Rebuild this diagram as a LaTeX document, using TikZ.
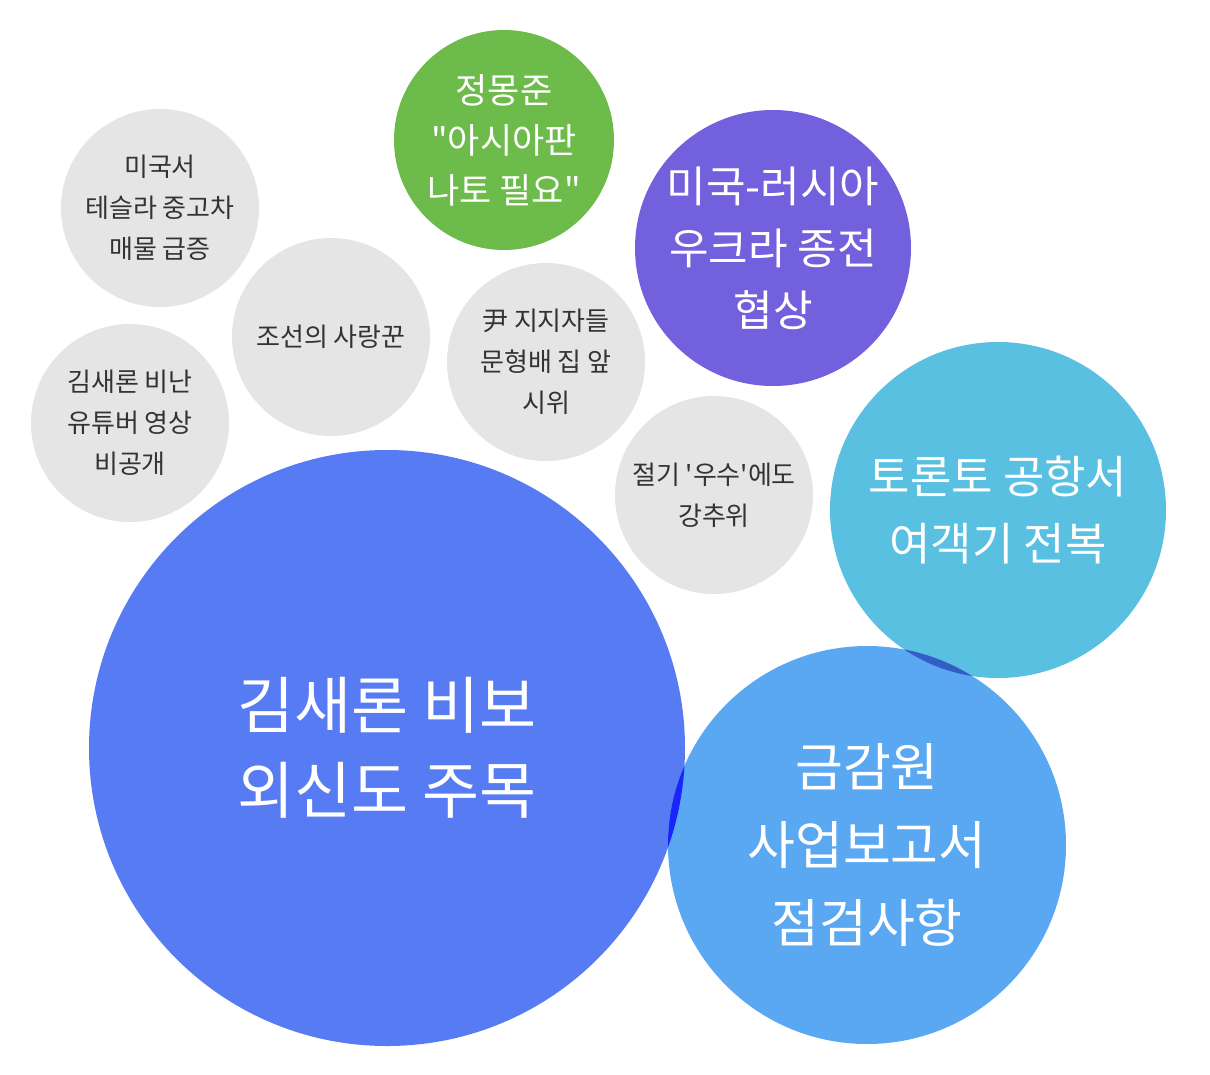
\documentclass[tikz,border=0pt]{standalone}
\usepackage{fontspec}
\newfontfamily\kr{Noto Sans CJK KR}
\definecolor{cbig}{HTML}{577BF3}
\definecolor{cfss}{HTML}{5BA8F2}
\definecolor{ctor}{HTML}{59C0E2}
\definecolor{cusr}{HTML}{7360DD}
\definecolor{cgrn}{HTML}{6DBB4A}
\definecolor{cgry}{HTML}{E5E5E5}
\definecolor{ctxt}{HTML}{333333}
\tikzset{
  bub/.style={circle,inner sep=0pt,minimum size=#1},
  wt/.style 2 args={text=white,align=center,font=\kr\fontsize{#1}{#2}\selectfont},
  gt/.style={text=ctxt,align=center,font=\kr\fontsize{26}{41}\selectfont},
}
\begin{document}
\begin{tikzpicture}[x=1pt,y=-1pt]
\useasboundingbox (0,0) rectangle (1210,1074);
\fill[cgry] (160,208) circle (99);
\fill[cgry] (331,337) circle (99);
\fill[cgry] (130,423) circle (99);
\fill[cgry] (546,362) circle (99);
\fill[cgry] (714,495) circle (99);
\fill[cgrn] (504,140) circle (110);
\fill[cusr] (773,248) circle (138);
\fill[ctor] (998,510) circle (168);
\fill[cbig] (387,748) circle (298);
\fill[cfss] (867,845) circle (199);
\begin{scope}
\clip (387,748) circle (298);
\fill[blue!70!cbig] (867,845) circle (199);
\end{scope}
\begin{scope}
\clip (998,510) circle (168);
\fill[cfss!70!blue!80!black] (867,845) circle (199);
\end{scope}
\node[bub=198pt,gt] (a) at (160,208) {미국서\\테슬라 중고차\\매물 급증};
\node[bub=198pt,gt] (b) at (331,337) {조선의 사랑꾼};
\node[bub=198pt,gt] (c) at (130,423) {김새론 비난\\유튜버 영상\\비공개};
\node[bub=198pt,gt] (d) at (546,362) {尹 지지자들\\문형배 집 앞\\시위};
\node[bub=198pt,gt] (e) at (714,495) {절기 '우수'에도\\강추위};
\node[bub=220pt,wt={35}{50}] (f) at (504,140) {정몽준\\"아시아판\\나토 필요"};
\node[bub=276pt,wt={43}{62}] (g) at (773,248) {미국-러시아\\우크라 종전\\협상};
\node[bub=336pt,wt={45}{67}] (h) at (998,510) {토론토 공항서\\여객기 전복};
\node[bub=596pt,wt={62}{85}] (i) at (387,748) {김새론 비보\\외신도 주목};
\node[bub=398pt,wt={52}{78}] (j) at (867,845) {금감원\\사업보고서\\점검사항};
\end{tikzpicture}
\end{document}
